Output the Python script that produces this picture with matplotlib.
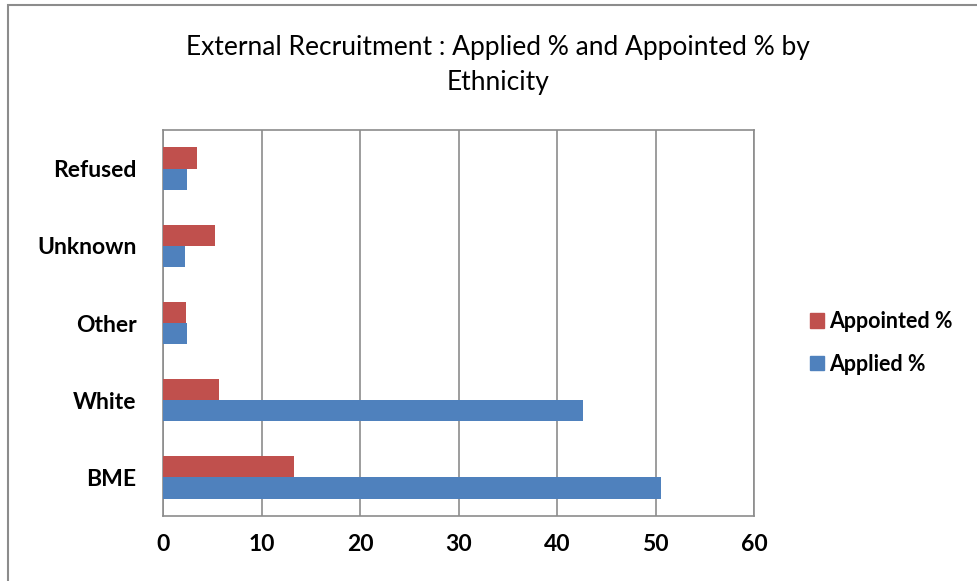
import numpy as np
import matplotlib.pyplot as plt
from matplotlib.patches import Rectangle, Patch

# data, bottom to top
categories = ['BME', 'White', 'Other', 'Unknown', 'Refused']
applied = [50.6, 42.6, 2.4, 2.2, 2.4]
appointed = [13.3, 5.7, 2.3, 5.3, 3.5]
xticks = [0, 10, 20, 30, 40, 50, 60]

blue = '#4F81BD'
red = '#C0504D'
grid_col = '#8C8C8C'

plt.rcParams['font.family'] = ['Lato', 'DejaVu Sans']

fig = plt.figure(figsize=(9.77, 5.81), dpi=100)
ax = fig.add_axes([163 / 977, 65 / 581, 591 / 977, 386 / 581])

y = np.arange(len(categories))
h = 0.275
ax.barh(y - h / 2, applied, height=h, color=blue, label='Applied %', zorder=3)
ax.barh(y + h / 2, appointed, height=h, color=red, label='Appointed %', zorder=3)

ax.set_xlim(0, 60)
ax.set_ylim(-0.5, len(categories) - 0.5)
ax.set_xticks(xticks)
ax.set_xticklabels([str(t) for t in xticks], fontsize=16.5, fontweight='bold')
ax.set_yticks(y)
ax.set_yticklabels(categories, fontsize=16.5, fontweight='bold')
ax.tick_params(axis='both', length=0)
ax.tick_params(axis='x', pad=13)
ax.tick_params(axis='y', pad=19)
ax.xaxis.grid(True, color=grid_col, linewidth=1.2, zorder=0)
for s in ax.spines.values():
    s.set_color(grid_col)
    s.set_linewidth(1.2)

fig.text(498 / 977, 1 - 48 / 581, 'External Recruitment : Applied % and Appointed % by',
         ha='center', va='center', fontsize=19)
fig.text(498 / 977, 1 - 83 / 581, 'Ethnicity', ha='center', va='center', fontsize=19)

handles = [Patch(color=red), Patch(color=blue)]
fig.legend(handles, ['Appointed %', 'Applied %'], loc='center left',
           bbox_to_anchor=(804 / 977, 1 - 343 / 581), frameon=False,
           prop={'size': 15.5, 'weight': 'bold'}, handlelength=0.65, handleheight=0.65,
           handletextpad=0.2, labelspacing=1.0, borderaxespad=0, borderpad=0.3)

# outer chart border
fig.patches.append(Rectangle((8 / 977, -0.05), 1.1, 1 - 5 / 581 + 0.05,
                             transform=fig.transFigure, fill=False,
                             edgecolor='#8C8C8C', linewidth=1.5))

fig.savefig('out.png', dpi=100)
